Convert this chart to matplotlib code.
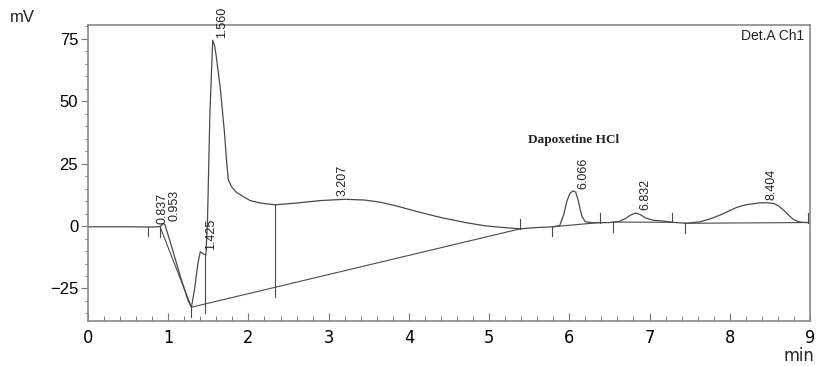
import numpy as np
import matplotlib
matplotlib.use("Agg")
import matplotlib.pyplot as plt
from matplotlib.ticker import MultipleLocator

# ---------------- data ----------------
time_min = [0.00, 0.50, 0.80, 0.90, 0.94, 0.96, 1.05, 1.15, 1.25, 1.29, 1.33, 1.37,
            1.40, 1.44, 1.47, 1.49, 1.52, 1.555, 1.58, 1.60, 1.65, 1.70, 1.73, 1.75,
            1.79, 1.85, 1.94, 2.02, 2.15, 2.33, 2.60, 2.90, 3.21, 3.45, 3.65, 3.85,
            4.10, 4.40, 4.72, 4.95, 5.14, 5.39, 5.60, 5.80, 5.88, 5.93, 5.97, 6.01,
            6.05, 6.08, 6.11, 6.14, 6.16, 6.20, 6.30, 6.50, 6.62, 6.70, 6.77, 6.83,
            6.89, 6.95, 7.05, 7.17, 7.28, 7.46, 7.63, 7.75, 7.88, 8.00, 8.09, 8.20,
            8.38, 8.48, 8.55, 8.61, 8.67, 8.73, 8.79, 8.85, 8.90, 8.98, 9.00]
signal_mv = [-0.3, -0.3, -0.4, -0.2, 1.0, 0.5, -9.0, -20.0, -30.0, -32.5, -25.0, -15.0,
             -10.3, -11.2, -11.6, 2.0, 45.0, 74.4, 72.0, 67.7, 55.0, 38.0, 25.0, 18.4,
             15.7, 13.5, 11.7, 10.2, 9.2, 8.5, 9.2, 10.2, 10.7, 10.4, 9.5, 8.0,
             5.8, 3.4, 1.3, 0.1, -0.5, -1.1, -0.6, -0.3, 0.2, 4.5, 10.0, 13.2,
             14.1, 13.5, 10.4, 6.0, 3.7, 1.7, 1.3, 1.4, 1.8, 3.0, 4.5, 5.2,
             4.5, 3.2, 2.3, 2.0, 1.5, 1.1, 1.7, 2.8, 4.4, 6.2, 7.5, 8.5,
             9.3, 9.3, 9.0, 8.0, 6.4, 4.5, 2.7, 1.8, 1.5, 1.4, 1.4]

peak_rt = [0.837, 0.953, 1.425, 1.560, 3.207, 6.066, 6.832, 8.404]
peak_labels = ["0.837", "0.953", "1.425", "1.560", "3.207", "6.066", "6.832", "8.404"]

# integration baselines (start time, start mV, end time, end mV)
base_t0 = [0.90, 1.29, 5.79, 6.55, 7.44]
base_v0 = [-0.4, -32.5, -0.3, 1.6, 1.1]
base_t1 = [1.29, 5.39, 6.38, 7.28, 8.98]
base_v1 = [-32.5, -1.1, 1.4, 1.5, 1.4]

# perpendicular drop lines (time, top mV, bottom mV)
drop_t = [1.46, 2.33]
drop_top = [-11.6, 8.5]
drop_bot = [-31.2, -24.5]

# peak start/end markers (time, mV, direction +1 up / -1 down)
mark_t = [0.75, 0.90, 1.29, 1.46, 2.33, 5.39, 5.79, 6.38, 6.55, 7.28, 7.44, 8.98]
mark_v = [-0.3, -0.4, -32.5, -31.2, -24.5, -1.1, -0.3, 1.4, 1.6, 1.5, 1.1, 1.4]
mark_dir = [-1, -1, -1, -1, -1, 1, -1, 1, -1, 1, -1, 1]

x_ticks = [0, 1, 2, 3, 4, 5, 6, 7, 8, 9]
y_ticks = [-25, 0, 25, 50, 75]

# ---------------- figure ----------------
fig = plt.figure(figsize=(8.19, 3.66), dpi=100)
ax = fig.add_axes([0.1074, 0.123, 0.8816, 0.809])

line_col = "#4a4a4a"
ax.plot(time_min, signal_mv, color=line_col, lw=0.9)

for t0, v0, t1, v1 in zip(base_t0, base_v0, base_t1, base_v1):
    ax.plot([t0, t1], [v0, v1], color=line_col, lw=0.8)
for t, top, bot in zip(drop_t, drop_top, drop_bot):
    ax.plot([t, t], [top, bot], color=line_col, lw=0.8)
for t, v, d in zip(mark_t, mark_v, mark_dir):
    ax.plot([t, t], [v, v + d * 3.8], color=line_col, lw=0.8)

label_off = {"3.207": -0.03, "0.837": 0.09, "0.953": 0.12}
for rt, lab in zip(peak_rt, peak_labels):
    xpos = rt + label_off.get(lab, 0.11)
    ypos = np.interp(rt, time_min, signal_mv) + 1.2
    ax.text(xpos, ypos, lab, rotation=90, ha="center", va="bottom",
            fontsize=9, family=["Liberation Sans", "DejaVu Sans"], color="#222222")

ax.text(5.49, 34.4, "Dapoxetine HCl", fontsize=9.5, fontweight="bold",
        family=["Liberation Serif", "DejaVu Serif"], ha="left", va="center", color="#222222")
ax.text(0.992, 0.985, "Det.A Ch1", transform=ax.transAxes, ha="right", va="top",
        fontsize=10, family=["Liberation Sans", "DejaVu Sans"], color="#222222")

ax.set_xlim(0, 9)
ax.set_ylim(-38, 80.5)
ax.set_xticks(x_ticks)
ax.set_yticks(y_ticks)
ax.xaxis.set_minor_locator(MultipleLocator(0.2))
ax.yaxis.set_minor_locator(MultipleLocator(5))
ax.tick_params(axis="x", which="major", direction="in", length=6, width=0.8,
               color="#777777", labelsize=13, pad=6)
ax.tick_params(axis="x", which="minor", direction="in", length=3.5, width=0.7, color="#777777")
ax.tick_params(axis="y", which="major", direction="out", length=5, width=0.8,
               color="#777777", labelsize=12, pad=2)
ax.tick_params(axis="y", which="minor", direction="out", length=2.5, width=0.7, color="#777777")
for lab in ax.get_xticklabels():
    lab.set_family(["DejaVu Sans"])
    lab.set_fontstretch("condensed")
for lab in ax.get_yticklabels():
    lab.set_family(["Liberation Sans", "DejaVu Sans"])
for s in ax.spines.values():
    s.set_color("#8a8a8a")
    s.set_linewidth(1.2)

fig.text(10 / 819, 1 - 17 / 366, "mV", fontsize=12, family=["Liberation Sans", "DejaVu Sans"],
         ha="left", va="center", color="#222222")
fig.text(799 / 819, 1 - 356 / 366, "min", fontsize=13, family=["DejaVu Sans"],
         fontstretch="condensed", ha="center", va="center", color="#222222")

fig.savefig("out.png", dpi=100)
